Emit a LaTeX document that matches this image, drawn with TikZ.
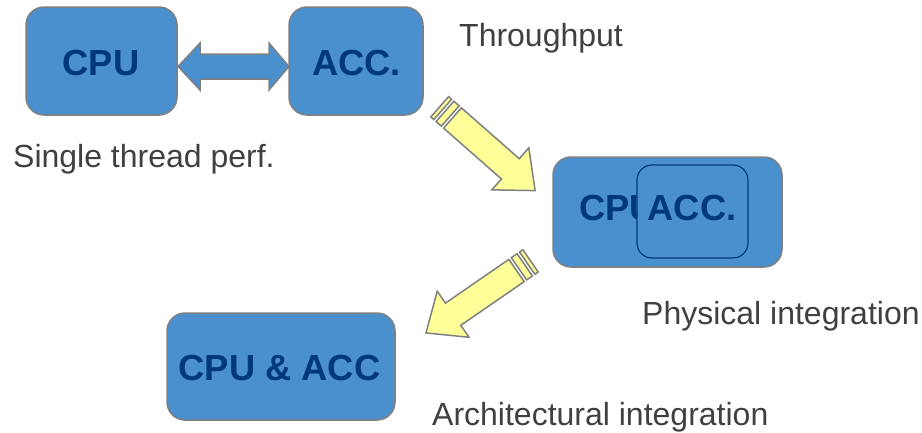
\documentclass[tikz,border=0pt]{standalone}
\usepackage{fontspec}
\setmainfont{Liberation Sans}
\definecolor{boxblue}{RGB}{74,144,206}
\definecolor{boxedge}{RGB}{128,128,128}
\definecolor{txtblue}{RGB}{0,57,122}
\definecolor{lbl}{RGB}{64,64,64}
\definecolor{arrowyel}{RGB}{255,255,153}
\begin{document}
\begin{tikzpicture}[x=1pt,y=-1pt,
  blk/.style={draw=boxedge, line width=1.5pt, fill=boxblue, rounded corners=18pt, inner sep=0pt},
  btxt/.style={font=\fontsize{36.3}{40}\selectfont\bfseries, text=txtblue, inner sep=0pt},
  lab/.style={font=\fontsize{32}{37}\selectfont, text=lbl, inner sep=0pt, anchor=base west},
  yarrow/.style={draw=boxedge, line width=1.5pt, fill=arrowyel, line join=miter},
  barrow/.style={draw=boxedge, line width=1.5pt, fill=boxblue, line join=miter},
  stripedarrow/.pic={
    \draw[yarrow] (0,-13.5) -- (77,-13.5) -- (77,-28) -- (110,0) -- (77,28) -- (77,13.5) -- (0,13.5) -- cycle;
    \draw[yarrow] (-10,-13.5) rectangle (-3,13.5);
    \draw[yarrow] (-17,-13.5) rectangle (-13,13.5);
  }]
\useasboundingbox (0,0) rectangle (922,432);

% top row
\node[blk, minimum width=151pt, minimum height=108pt] (cpu) at (101.5,61) {};
\node[btxt] (cputxt) at (101,63) {CPU};
\node[blk, minimum width=134pt, minimum height=108pt] (acc) at (356,61) {};
\node[btxt] (acctxt) at (356.5,63) {ACC.};

% double arrow between CPU and ACC
\coordinate (dl) at (178,66.5);
\coordinate (dr) at (289,66.5);
\draw[barrow] (dl) -- ++(22,-23.5) -- ++(0,11) -- ++(69,0) -- ++(0,-11) -- (dr)
  -- ++(-20,23.5) -- ++(0,-11) -- ++(-69,0) -- ++(0,11) -- cycle;

% physical integration box
\node[blk, minimum width=229pt, minimum height=110pt] (phys) at (667.5,212) {};
\node[btxt, anchor=west] (physcpu) at (579,208) {CPU};
\node[draw=txtblue, line width=1.2pt, fill=boxblue, rounded corners=15pt, inner sep=0pt,
      minimum width=111pt, minimum height=93pt] (physacc) at (692.5,211.5) {};
\node[btxt] (physacctxt) at (692,208) {ACC.};

% architectural integration box
\node[blk, minimum width=228pt, minimum height=107pt] (arch) at (281,366.5) {};
\node[btxt] (archtxt) at (279.5,368) {CPU \& ACC};

% striped yellow arrows
\pic[rotate=-41.3] (ya) at (452.5,118) {stripedarrow};
\pic[rotate=-145.4] (yb) at (516.5,270.5) {stripedarrow};

% labels
\node[lab] (thr) at (459,46) {Throughput};
\node[lab] (single) at (13,167) {Single thread perf.};
\node[lab] (physl) at (642,324) {Physical integration};
\node[lab] (archl) at (432,425) {Architectural integration};
\end{tikzpicture}
\end{document}
